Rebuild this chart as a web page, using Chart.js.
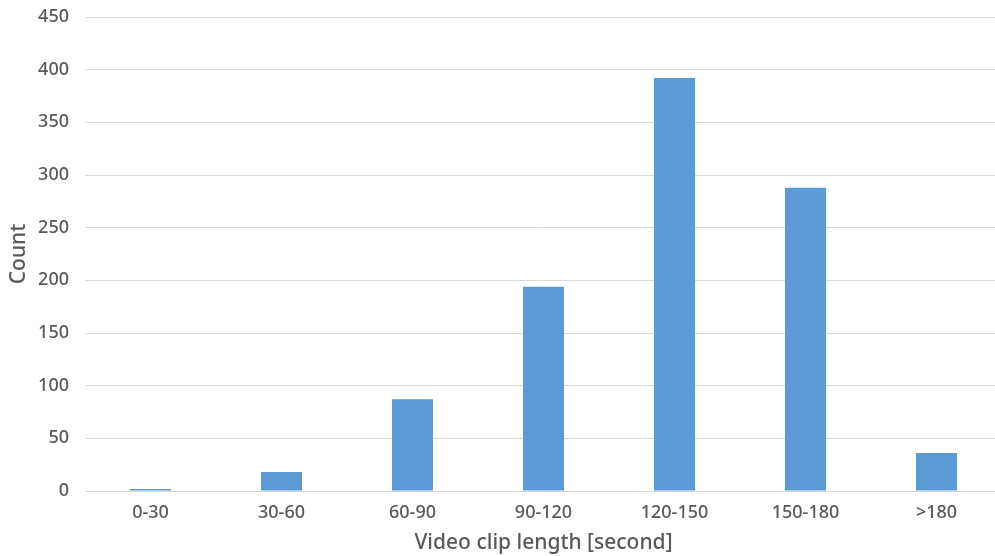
<!DOCTYPE html>
<html>
<head>
<meta charset="utf-8">
<script src="https://cdn.jsdelivr.net/npm/chart.js@4/dist/chart.umd.min.js"></script>
<style>
html,body{margin:0;padding:0;background:#fff;overflow:hidden;width:995px;height:556px;}
canvas{display:block;}
</style>
</head>
<body>
<canvas id="c" width="1003" height="556"></canvas>
<script>
const categories = ["0-30", "30-60", "60-90", "90-120", "120-150", "150-180", ">180"];
const counts = [2, 18, 87, 194, 392, 288, 36];
const yTicksMin = 0, yTicksMax = 450, yTickStep = 50;
const xTitle = "Video clip length [second]";
const yTitle = "Count";

const FONT = "'Noto Sans', 'Liberation Sans', sans-serif";
const TEXT = "#595959";
const GRID = "#d9d9d9";

new Chart(document.getElementById('c'), {
  type: 'bar',
  data: {
    labels: categories,
    datasets: [{
      data: counts,
      backgroundColor: '#5b9bd5',
      borderWidth: 0,
      barPercentage: 0.313,
      categoryPercentage: 1.0
    }]
  },
  options: {
    responsive: false,
    animation: false,
    events: [],
    layout: { padding: { top: 17, right: 1, left: 0, bottom: 0 } },
    plugins: { legend: { display: false }, tooltip: { enabled: false } },
    scales: {
      x: {
        grid: { display: false, drawTicks: false },
        border: { display: true, color: GRID, width: 1 },
        ticks: { color: TEXT, font: { family: FONT, size: 18, weight: '500' }, padding: 11, maxRotation: 0 },
        title: { display: true, text: xTitle, color: TEXT, font: { family: FONT, size: 21, weight: '500' }, padding: { top: 0, bottom: 0 } },
        afterFit: s => { s.height = 65; s.paddingLeft = 0; s.paddingRight = 0; }
      },
      y: {
        min: yTicksMin, max: yTicksMax,
        grid: { color: GRID, drawTicks: false, lineWidth: 1 },
        border: { display: false },
        ticks: { stepSize: yTickStep, color: TEXT, font: { family: FONT, size: 18, weight: '500' }, padding: 16 },
        title: { display: true, text: yTitle, color: TEXT, font: { family: FONT, size: 21, weight: '500' }, padding: { top: 6, bottom: 0 } },
        afterFit: s => { s.width = 85; s.paddingTop = 0; s.paddingBottom = 0; }
      }
    }
  }
});
</script>
</body>
</html>
